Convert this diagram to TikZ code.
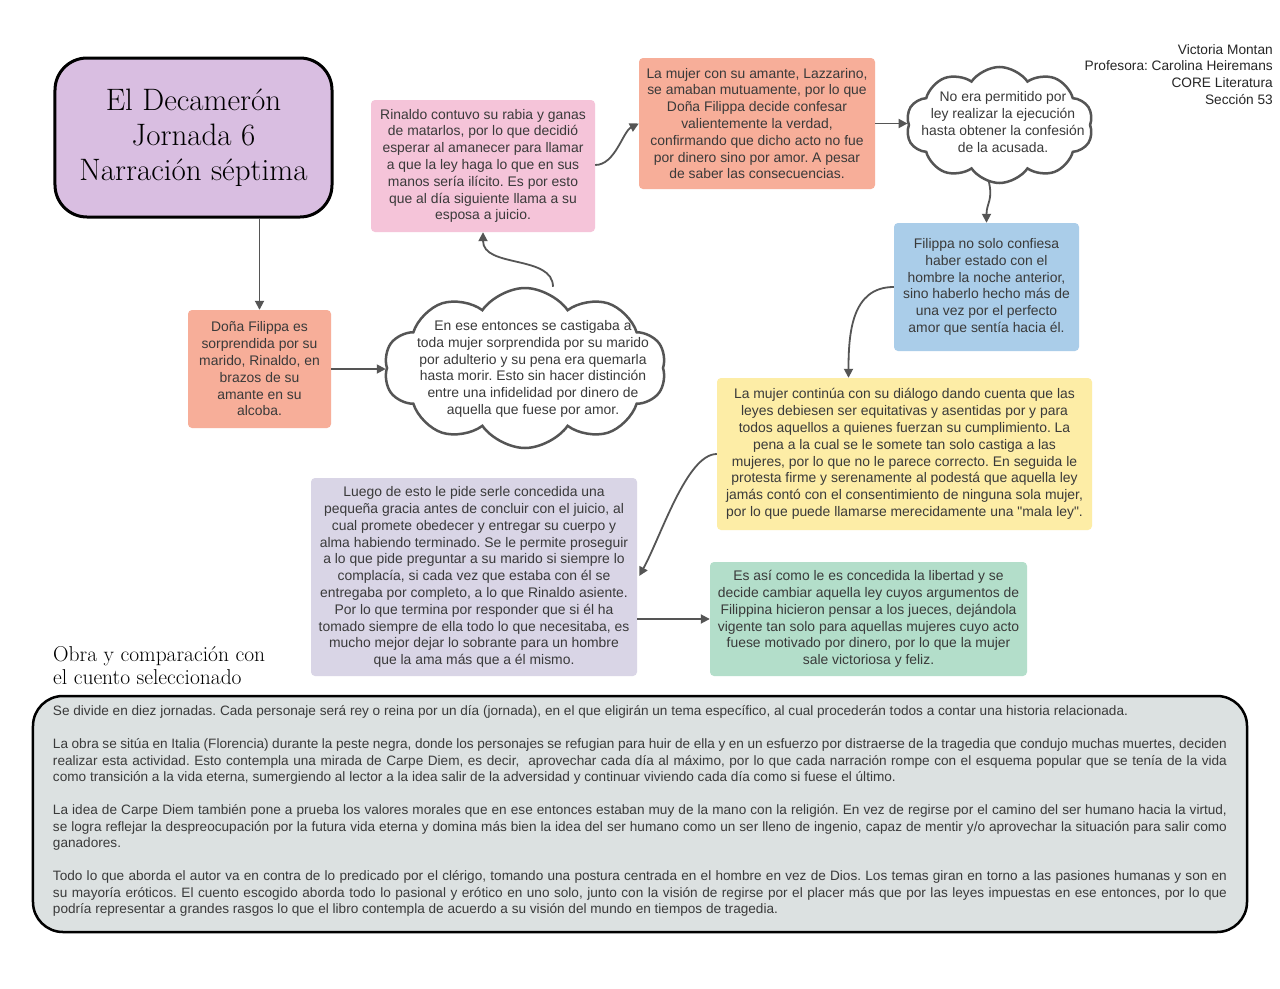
\documentclass[tikz,border=0pt]{standalone}
\usepackage{fontspec}
\newfontfamily\arial{Liberation Sans}
\usetikzlibrary{shapes.symbols,arrows.meta,calc}
\definecolor{salmon}{HTML}{F7AE99}
\definecolor{pinkbox}{HTML}{F5C4D9}
\definecolor{lav}{HTML}{D9BEE1}
\definecolor{bluebox}{HTML}{AACDE9}
\definecolor{yellowbox}{HTML}{FDEDA6}
\definecolor{purplebox}{HTML}{D9D5E6}
\definecolor{greenbox}{HTML}{B3DECA}
\definecolor{greybox}{HTML}{DCE1E1}
\definecolor{txt}{HTML}{3A3A3A}
\definecolor{arrowc}{HTML}{555555}
\newcommand{\bodyfont}{\arial\fontsize{13.9bp}{16.8bp}\selectfont}
\frenchspacing
\begin{document}
\begin{tikzpicture}[x=1bp,y=-1bp,
  box/.style={rounded corners=4bp, align=center, inner sep=0pt, font=\bodyfont, text=txt},
  cloudbox/.style={cloud, cloud puffs=10, cloud puff arc=110, cloud ignores aspect, draw=arrowc, line width=2.5bp, fill=white, inner sep=0pt},
  cloudtext/.style={align=center, inner sep=0pt, font=\bodyfont, text=txt},
  conn/.style={draw=arrowc, line width=1.8bp, -{Triangle[length=9bp,width=9bp]}},
]
\useasboundingbox (0,0) rectangle (1280,989);
\fill[white] (0,0) rectangle (1280,989);

\node[draw=black, line width=3bp, fill=lav, rounded corners=32bp, minimum width=277bp, minimum height=159bp, align=center, inner sep=0pt, font=\fontsize{31bp}{35bp}\selectfont] (title) at (193.5,137.5) {El Decamerón\\Jornada 6\\Narración séptima};

\node[box, fill=salmon, minimum width=143bp, minimum height=118bp] (dona) at (259.5,369) {Doña Filippa es\\sorprendida por su\\marido, Rinaldo, en\\brazos de su\\amante en su\\alcoba.};

\node[cloudbox, minimum width=282bp, minimum height=160bp] (c1) at (525,368) {};
\node[cloudtext] (c1text) at (533,369) {En ese entonces se castigaba a\\toda mujer sorprendida por su marido\\por adulterio y su pena era quemarla\\hasta morir. Esto sin hacer distinción\\entre una infidelidad por dinero de\\aquella que fuese por amor.};

\node[box, fill=pinkbox, minimum width=224bp, minimum height=132bp] (rinaldo) at (483,166) {Rinaldo contuvo su rabia y ganas\\de matarlos, por lo que decidió\\esperar al amanecer para llamar\\a que la ley haga lo que en sus\\manos sería ilícito. Es por esto\\que al día siguiente llama a su\\esposa a juicio.};

\node[box, fill=salmon, minimum width=236bp, minimum height=131bp] (lazz) at (757,123.5) {La mujer con su amante, Lazzarino,\\se amaban mutuamente, por lo que\\Doña Filippa decide confesar\\valientemente la verdad,\\confirmando que dicho acto no fue\\por dinero sino por amor. A pesar\\de saber las consecuencias.};

\node[cloudbox, minimum width=187bp, minimum height=116bp] (c2) at (999.5,125) {};
\node[cloudtext] (c2text) at (1003,122) {No era permitido por\\ley realizar la ejecución\\hasta obtener la confesión\\de la acusada.};

\node[box, fill=bluebox, minimum width=185bp, minimum height=128bp] (blue) at (986.5,287) {Filippa no solo confiesa\\haber estado con el\\hombre la noche anterior,\\sino haberlo hecho más de\\una vez por el perfecto\\amor que sentía hacia él.};

\node[box, fill=yellowbox, minimum width=375bp, minimum height=152bp] (yellow) at (904.5,454) {La mujer continúa con su diálogo dando cuenta que las\\leyes debiesen ser equitativas y asentidas por y para\\todos aquellos a quienes fuerzan su cumplimiento. La\\pena a la cual se le somete tan solo castiga a las\\mujeres, por lo que no le parece correcto. En seguida le\\protesta firme y serenamente al podestá que aquella ley\\jamás contó con el consentimiento de ninguna sola mujer,\\por lo que puede llamarse merecidamente una "mala ley".};

\node[box, fill=purplebox, minimum width=326bp, minimum height=198bp] (purple) at (474,577) {Luego de esto le pide serle concedida una\\pequeña gracia antes de concluir con el juicio, al\\cual promete obedecer y entregar su cuerpo y\\alma habiendo terminado. Se le permite proseguir\\a lo que pide preguntar a su marido si siempre lo\\complacía, si cada vez que estaba con él se\\entregaba por completo, a lo que Rinaldo asiente.\\Por lo que termina por responder que si él ha\\tomado siempre de ella todo lo que necesitaba, es\\mucho mejor dejar lo sobrante para un hombre\\que la ama más que a él mismo.};

\node[box, fill=greenbox, minimum width=317bp, minimum height=114bp] (green) at (868.5,619) {Es así como le es concedida la libertad y se\\decide cambiar aquella ley cuyos argumentos de\\Filippina hicieron pensar a los jueces, dejándola\\vigente tan solo para aquellas mujeres cuyo acto\\fuese motivado por dinero, por lo que la mujer\\sale victoriosa y feliz.};

\node[anchor=north east, align=right, inner sep=0pt, font=\arial\fontsize{13.7bp}{16.7bp}\selectfont, text=black!85] (credits) at (1273,44) {Victoria Montan\\Profesora: Carolina Heiremans\\CORE Literatura\\Sección 53};

\node[anchor=west, align=left, inner sep=0pt, font=\fontsize{21.5bp}{23bp}\selectfont] (heading) at (53,666) {Obra y comparación con\\el cuento seleccionado};

\node[draw=black, line width=2.5bp, fill=greybox, rounded corners=30bp, minimum width=1214bp, minimum height=236bp, inner sep=0pt] (obra) at (640,814) {};
\node[text width=1174bp, align=justify, inner sep=0pt, text=txt, font=\arial\fontsize{13.6bp}{16.5bp}\selectfont] (obratext) at (640,811) {\emergencystretch=20bp Se divide en diez jornadas. Cada personaje será rey o reina por un día (jornada), en el que eligirán un tema específico, al cual procederán todos a contar una historia relacionada.\par\vspace{16.5bp}
La obra se sitúa en Italia (Florencia) durante la peste negra, donde los personajes se refugian para huir de ella y en un esfuerzo por distraerse de la tragedia que condujo muchas muertes, deciden\linebreak realizar esta actividad. Esto contempla una mirada de Carpe Diem, es decir, \ aprovechar cada día al máximo, por lo que cada narración rompe con el esquema popular que se tenía de la vida\linebreak como transición a la vida eterna, sumergiendo al lector a la idea salir de la adversidad y continuar viviendo cada día como si fuese el último.\par\vspace{16.5bp}
La idea de Carpe Diem también pone a prueba los valores morales que en ese entonces estaban muy de la mano con la religión. En vez de regirse por el camino del ser humano hacia la virtud,\linebreak se logra reflejar la despreocupación por la futura vida eterna y domina más bien la idea del ser humano como un ser lleno de ingenio, capaz de mentir y/o aprovechar la situación para salir como\linebreak ganadores.\par\vspace{16.5bp}
Todo lo que aborda el autor va en contra de lo predicado por el clérigo, tomando una postura centrada en el hombre en vez de Dios. Los temas giran en torno a las pasiones humanas y son en\linebreak su mayoría eróticos. El cuento escogido aborda todo lo pasional y erótico en uno solo, junto con la visión de regirse por el placer más que por las leyes impuestas en ese entonces, por lo que\linebreak podría representar a grandes rasgos lo que el libro contempla de acuerdo a su visión del mundo en tiempos de tragedia.};

\draw[conn] (title.south -| dona.north) -- (dona.north);
\draw[conn] (dona.east) -- (dona.east -| c1.west);
\draw[conn] ($(c1.north)+(28,0)$) .. controls +(0,-32) and +(0,36) .. (rinaldo.south);
\draw[conn] ($(rinaldo.east)+(0,-1)$) .. controls +(20,0) and +(-16,8) .. (lazz.west);
\draw[conn] (lazz.east) -- (lazz.east -| c2.west);
\draw[conn] ($(c2.south)+(-11,-4)$) .. controls +(5,20) and +(0,-20) .. (blue.north);
\draw[conn] (blue.west) .. controls +(-42,0) and +(0,-45) .. ($(yellow.north)+(-56,0)$);
\draw[conn] (yellow.west) .. controls +(-30,0) and +(22,-40) .. ($(purple.east)+(2,-1)$);
\draw[conn] (purple.east |- green.west) -- (green.west);
\end{tikzpicture}
\end{document}
